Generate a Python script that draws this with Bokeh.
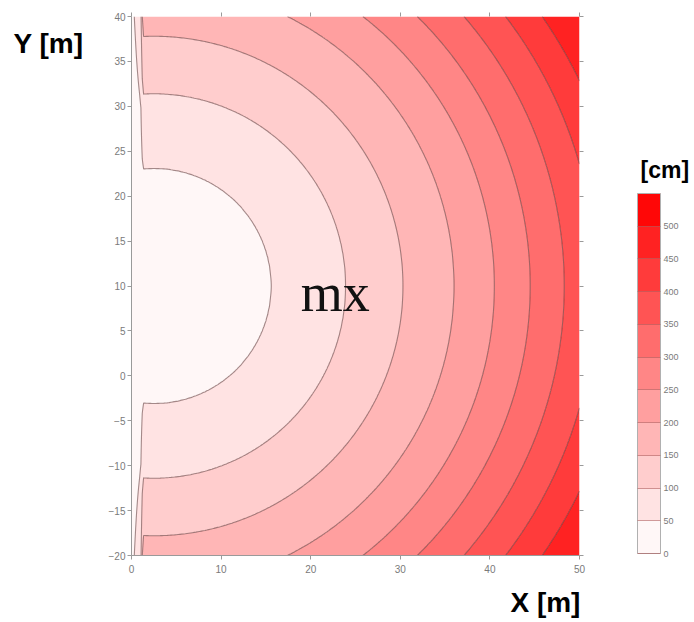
import numpy as np
from bokeh.plotting import figure
from bokeh.models import (Range1d, LinearAxis, FixedTicker, Label, ColorBar,
                          LinearColorMapper)
from bokeh.embed import file_html
from bokeh.resources import INLINE

# ---- data ----
# contour levels [cm] and the colour of each band
LEVELS = [0, 50, 100, 150, 200, 250, 300, 350, 400, 450, 500, 550]
FILL_COLORS = ["#fff7f7", "#ffe3e3", "#ffcdcd", "#ffb6b6", "#ff9f9f", "#ff8686",
               "#ff6d6d", "#ff5454", "#ff3b3b", "#ff2222", "#ff0707"]
CB_TICKS = [0, 50, 100, 150, 200, 250, 300, 350, 400, 450, 500]
# radial distance [m] from the source point at which each value is reached
SOURCE_X, SOURCE_Y = 2.5, 10.0
RADII = [0.0, 13.1, 21.4, 27.8, 33.5, 38.0, 42.0, 45.8, 49.4, 52.7, 56.5, 60.0]
RADIAL_VALUES = [5, 50, 100, 150, 200, 250, 300, 350, 400, 450, 500, 550]
# reduction factor in the thin strip next to the left boundary x = 0
EDGE_X = [0.0, 0.3, 1.05, 1.2, 1.35]
EDGE_F = [0.1, 0.29, 0.55, 0.88, 1.0]
X_TICKS = [0, 10, 20, 30, 40, 50]
Y_TICKS = [-20, -15, -10, -5, 0, 5, 10, 15, 20, 25, 30, 35, 40]

# ---- field on a grid ----
xs = np.concatenate([np.linspace(0, 2, 81), np.linspace(2.2, 50, 240)])
ys = np.linspace(-20, 40, 301)
X, Y = np.meshgrid(xs, ys)
R = np.hypot(X - SOURCE_X, Y - SOURCE_Y)
Z = np.interp(R, RADII, RADIAL_VALUES) * np.interp(X, EDGE_X, EDGE_F)

W, H = 692, 620
p = figure(width=W, height=H, x_range=Range1d(0, 50), y_range=Range1d(-20, 40),
           output_backend="svg", toolbar_location=None,
           min_border_left=131, min_border_right=W - 579, min_border_top=16,
           min_border_bottom=H - 555, x_axis_location=None, y_axis_location=None)
p.outline_line_color = None
p.grid.visible = False
p.background_fill_color = "white"

p.contour(x=xs, y=ys, z=Z, levels=LEVELS, fill_color=FILL_COLORS,
          line_color="#5a3535", line_alpha=0.55, line_width=1.1)

TICK_COLOR = "#9a9a9a"
LABEL_COLOR = "#7a7a7a"

def style(ax, ticks, labels=True, line=True):
    ax.axis_line_color = TICK_COLOR if line else None
    ax.major_tick_line_color = TICK_COLOR
    ax.major_tick_out = 4
    ax.major_tick_in = 0
    ax.minor_tick_line_color = None
    ax.major_label_text_font = "Liberation Sans"
    ax.major_label_text_font_size = "10px"
    ax.major_label_text_color = LABEL_COLOR
    if not labels:
        ax.major_label_overrides = {t: "" for t in ticks}
        ax.major_label_standoff = 0

bx = LinearAxis(ticker=FixedTicker(ticks=X_TICKS)); style(bx, X_TICKS); bx.major_label_standoff = 5
lx = LinearAxis(ticker=FixedTicker(ticks=Y_TICKS)); style(lx, Y_TICKS); lx.major_label_standoff = 2
tx = LinearAxis(ticker=FixedTicker(ticks=X_TICKS)); style(tx, X_TICKS, labels=False, line=False)
rx = LinearAxis(ticker=FixedTicker(ticks=Y_TICKS)); style(rx, Y_TICKS, labels=False, line=False)
p.add_layout(bx, "below")
p.add_layout(lx, "left")
p.add_layout(tx, "above")
p.add_layout(rx, "right")

# axis titles: drawn as single tick labels of tick-less outer axes
def title_axis(pos, text, size, standoff):
    ax = LinearAxis(ticker=FixedTicker(ticks=[pos]), major_label_overrides={pos: text},
                    axis_line_color=None, major_tick_line_color=None,
                    minor_tick_line_color=None, major_tick_out=0, major_tick_in=0,
                    major_label_standoff=standoff,
                    major_label_text_font="Liberation Sans",
                    major_label_text_font_style="bold",
                    major_label_text_font_size=size, major_label_text_color="black")
    return ax

p.add_layout(title_axis(36.94, "Y [m]", "28px", 22), "left")
p.add_layout(title_axis(22.96, "[cm]", "23px", 57), "right")
p.add_layout(title_axis(46.2, "X [m]", "28px", 11), "below")

p.add_layout(Label(x=18.9, y=9.27, text="mx", text_font="Liberation Serif",
                   text_font_size="54px", text_color="#111111",
                   text_align="left", text_baseline="alphabetic"))

mapper = LinearColorMapper(palette=FILL_COLORS, low=LEVELS[0], high=LEVELS[-1])
cb = ColorBar(color_mapper=mapper, ticker=FixedTicker(ticks=CB_TICKS),
              width=23, height=360, location=(506, 2), padding=0, margin=0,
              bar_line_color="#b0b0b0", major_tick_in=23, major_tick_out=0,
              major_tick_line_color="#b06060", major_tick_line_alpha=0.6,
              minor_tick_line_color=None,
              major_label_text_font="Liberation Sans",
              major_label_text_font_size="9px", major_label_text_color=LABEL_COLOR,
              label_standoff=3, background_fill_color=None, border_line_color=None)
p.add_layout(cb, "center")

open("out.html", "w").write(file_html(p, INLINE))
